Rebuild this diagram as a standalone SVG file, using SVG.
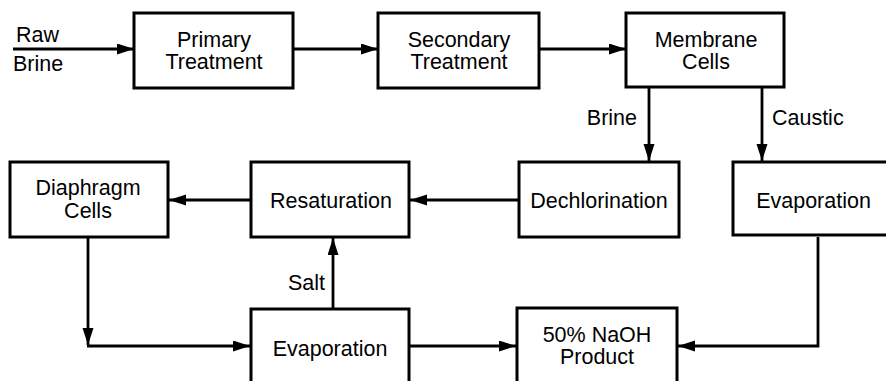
<svg xmlns="http://www.w3.org/2000/svg" width="886" height="381" viewBox="0 0 886 381">
  <style>
    .box { fill: #fff; stroke: #000; stroke-width: 3; }
    .lbl { font-family: "Liberation Sans", Arial, sans-serif; font-size: 21.5px; fill: #000; }
    .mid { text-anchor: middle; }
    .end { text-anchor: end; }
    .flow { fill: none; stroke: #000; stroke-width: 2.8; }
  </style>
  <defs>
    <marker id="head" markerUnits="userSpaceOnUse" markerWidth="18" markerHeight="12" refX="17" refY="5.5" orient="auto">
      <path d="M0,0 L17,5.5 L0,11 Z" fill="#000"/>
    </marker>
  </defs>
  <rect width="886" height="381" fill="#fff"/>

  <!-- connectors; labels are stretched slightly in height about their baselines -->
  <g id="connectors">
    <line class="flow" x1="13" y1="49" x2="134" y2="49" marker-end="url(#head)"/>
    <line class="flow" x1="293" y1="49" x2="378" y2="49" marker-end="url(#head)"/>
    <line class="flow" x1="539" y1="49" x2="626" y2="49" marker-end="url(#head)"/>
    <line class="flow" x1="649" y1="87" x2="649" y2="161" marker-end="url(#head)"/>
    <line class="flow" x1="762" y1="87" x2="762" y2="161" marker-end="url(#head)"/>
    <line class="flow" x1="519" y1="200" x2="410" y2="200" marker-end="url(#head)"/>
    <line class="flow" x1="251" y1="200" x2="169" y2="200" marker-end="url(#head)"/>
    <line class="flow" x1="88" y1="237" x2="88" y2="345" marker-end="url(#head)"/>
    <line class="flow" x1="87" y1="346" x2="250" y2="346" marker-end="url(#head)"/>
    <line class="flow" x1="333" y1="309" x2="333" y2="238" marker-end="url(#head)"/>
    <line class="flow" x1="409" y1="346" x2="516" y2="346" marker-end="url(#head)"/>
    <polyline class="flow" points="818,237 818,346 678,346" marker-end="url(#head)"/>
    <text class="lbl" x="16" y="42" transform="matrix(1 0 0 1.04 0 -1.68)">Raw</text>
    <text class="lbl" x="13" y="71" transform="matrix(1 0 0 1.04 0 -2.84)">Brine</text>
    <text class="lbl end" x="637" y="125" transform="matrix(1 0 0 1.04 0 -5)">Brine</text>
    <text class="lbl" x="772" y="125" transform="matrix(1 0 0 1.04 0 -5)">Caustic</text>
    <text class="lbl end" x="325" y="290" transform="matrix(1 0 0 1.04 0 -11.6)">Salt</text>
  </g>

  <g id="primary-treatment">
    <rect class="box" x="134" y="13" width="159" height="75"/>
    <text class="lbl mid" x="214" y="47" transform="matrix(1 0 0 1.04 0 -1.88)">Primary</text>
    <text class="lbl mid" x="214" y="69" transform="matrix(1 0 0 1.04 0 -2.76)">Treatment</text>
  </g>
  <g id="secondary-treatment">
    <rect class="box" x="378" y="13" width="161" height="75"/>
    <text class="lbl mid" x="459" y="47" transform="matrix(1 0 0 1.04 0 -1.88)">Secondary</text>
    <text class="lbl mid" x="459" y="69" transform="matrix(1 0 0 1.04 0 -2.76)">Treatment</text>
  </g>
  <g id="membrane-cells">
    <rect class="box" x="626" y="13" width="158" height="74"/>
    <text class="lbl mid" x="706" y="47" transform="matrix(1 0 0 1.04 0 -1.88)">Membrane</text>
    <text class="lbl mid" x="706" y="69" transform="matrix(1 0 0 1.04 0 -2.76)">Cells</text>
  </g>
  <g id="diaphragm-cells">
    <rect class="box" x="10" y="162" width="158" height="75"/>
    <text class="lbl mid" x="88" y="195" transform="matrix(1 0 0 1.04 0 -7.8)">Diaphragm</text>
    <text class="lbl mid" x="88" y="218" transform="matrix(1 0 0 1.04 0 -8.72)">Cells</text>
  </g>
  <g id="resaturation">
    <rect class="box" x="251" y="162" width="158" height="75"/>
    <text class="lbl mid" x="331" y="208" transform="matrix(1 0 0 1.04 0 -8.32)">Resaturation</text>
  </g>
  <g id="dechlorination">
    <rect class="box" x="519" y="162" width="160" height="75"/>
    <text class="lbl mid" x="599" y="208" transform="matrix(1 0 0 1.04 0 -8.32)">Dechlorination</text>
  </g>
  <g id="caustic-evaporation">
    <rect class="box" x="733" y="162" width="162" height="73"/>
    <text class="lbl mid" x="813.5" y="208" transform="matrix(1 0 0 1.04 0 -8.32)">Evaporation</text>
  </g>
  <g id="salt-evaporation">
    <rect class="box" x="251" y="309" width="158" height="90"/>
    <text class="lbl mid" x="330" y="356" transform="matrix(1 0 0 1.04 0 -14.24)">Evaporation</text>
  </g>
  <g id="naoh-product">
    <rect class="box" x="517" y="308" width="160" height="90"/>
    <text class="lbl mid" x="597" y="342" transform="matrix(1 0 0 1.04 0 -13.68)">50% NaOH</text>
    <text class="lbl mid" x="597" y="364" transform="matrix(1 0 0 1.04 0 -14.56)">Product</text>
  </g>
</svg>
